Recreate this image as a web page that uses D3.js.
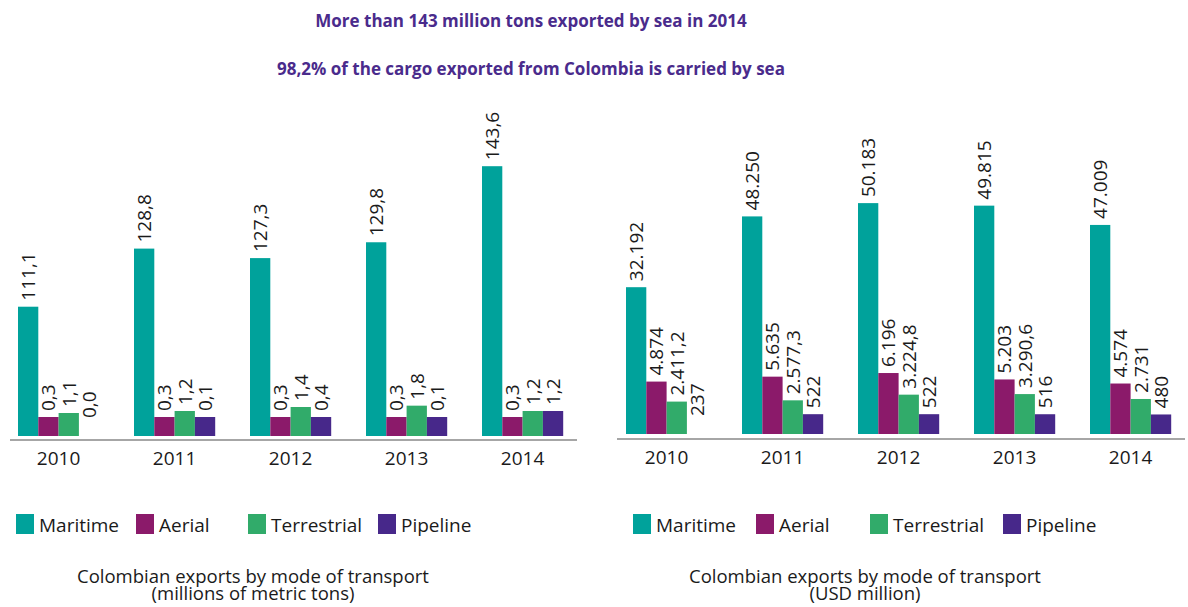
<!DOCTYPE html>
<html><head><meta charset="utf-8">
<script src="https://cdn.jsdelivr.net/npm/d3@7"></script>
<style>
html,body{margin:0;padding:0;background:#fff;}
svg text{font-family:"Open Sans","Noto Sans",sans-serif;}
</style></head>
<body>
<svg id="c" width="1188" height="607"></svg>
<script>
const years = ["2010","2011","2012","2013","2014"];
const modes = ["Maritime","Aerial","Terrestrial","Pipeline"];
const modeColors = ["#00a29b","#8b1a6a","#31ab6a","#47288a"];
const tonsMaritime = [111.1,128.8,127.3,129.8,143.6];
const tonsAerial = [0.3,0.3,0.3,0.3,0.3];
const tonsTerrestrial = [1.1,1.2,1.4,1.8,1.2];
const tonsPipeline = [0.0,0.1,0.4,0.1,1.2];
const usdMaritime = [32192,48250,50183,49815,47009];
const usdAerial = [4874,5635,6196,5203,4574];
const usdTerrestrial = [2411.2,2577.3,3224.8,3290.6,2731];
const usdPipeline = [237,522,522,516,480];
const titleLines = ["More than 143 million tons exported by sea in 2014","98,2% of the cargo exported from Colombia is carried by sea"];
const captionLeft = ["Colombian exports by mode of transport","(millions of metric tons)"];
const captionRight = ["Colombian exports by mode of transport","(USD million)"];

const loc = d3.formatLocale({decimal:",", thousands:".", grouping:[3], currency:["$",""]});
const fmtTons = loc.format(".1f");
const fmtUsd = v => Number.isInteger(v) ? loc.format(",.0f")(v) : loc.format(",.1f")(v);

const svg = d3.select("#c");

// titles
svg.selectAll("text.title").data(titleLines).join("text")
  .attr("class","title")
  .attr("x",531).attr("y",(d,i)=>27+i*48)
  .attr("text-anchor","middle")
  .attr("font-size",17).attr("font-weight","bold")
  .attr("fill","#4a2b8c").text(d=>d);

function drawChart(cfg){
  const g = svg.append("g");
  const x0 = d3.scaleBand().domain(years).range(cfg.range).paddingInner(0.3).paddingOuter(0.15);
  const x1 = d3.scaleBand().domain(modes).range([0,x0.bandwidth()]);
  const h = d3.scaleLinear().domain(cfg.hDomain).range(cfg.hRange);
  const rows = years.map((y,i)=>({year:y, vals:modes.map((m,j)=>({mode:m, j, v:cfg.series[j][i]}))}));

  // axis line
  g.append("line").attr("x1",cfg.axisX[0]).attr("x2",cfg.axisX[1])
    .attr("y1",cfg.axisY).attr("y2",cfg.axisY)
    .attr("stroke","#a6a6a6").attr("stroke-width",2);

  const grp = g.selectAll("g.grp").data(rows).join("g")
    .attr("class","grp").attr("transform",d=>`translate(${x0(d.year)},0)`);

  grp.selectAll("rect").data(d=>d.vals).join("rect")
    .attr("x",d=>x1(d.mode)).attr("width",x1.bandwidth())
    .attr("y",d=>cfg.base-h(d.v)).attr("height",d=>h(d.v))
    .attr("fill",d=>modeColors[d.j]);

  grp.selectAll("text.lbl").data(d=>d.vals).join("text")
    .attr("class","lbl")
    .attr("transform",d=>{
      const hh = h(d.v);
      const yb = hh>0 ? cfg.base-hh-6 : cfg.base-18;
      return `translate(${x1(d.mode)+x1.bandwidth()/2+7},${yb}) rotate(-90)`;
    })
    .attr("font-size",19).attr("fill","#1a1a1a")
    .text(d=>cfg.fmt(d.v));

  // x axis labels
  g.selectAll("text.yr").data(years).join("text")
    .attr("class","yr")
    .attr("x",d=>x0(d)+x0.bandwidth()/2).attr("y",cfg.axisY+25)
    .attr("text-anchor","middle").attr("font-size",19).attr("fill","#1a1a1a")
    .text(d=>d);

  // legend
  const lg = g.selectAll("g.lg").data(modes).join("g").attr("class","lg")
    .attr("transform",(d,i)=>`translate(${cfg.legendX[i]},514)`);
  lg.append("rect").attr("width",18).attr("height",20).attr("fill",(d,i)=>modeColors[i]);
  lg.append("text").attr("x",23).attr("y",18).attr("font-size",19).attr("fill","#1a1a1a").text(d=>d);

  // caption
  g.selectAll("text.cap").data(cfg.caption).join("text")
    .attr("class","cap")
    .attr("x",cfg.capX).attr("y",(d,i)=>583+i*17)
    .attr("text-anchor","middle").attr("font-size",18.5).attr("fill","#1a1a1a")
    .text(d=>d);
}

drawChart({
  range:[0.6,580.6], base:436, axisY:440, axisX:[10,577],
  series:[tonsMaritime,tonsAerial,tonsTerrestrial,tonsPipeline],
  hDomain:[0,0.01,0.5,1.1,1.4,2,111,127,130,144],
  hRange:[0,19,19,23,29,31,129,176,195,272],
  fmt:fmtTons, legendX:[16,136,248,378], caption:captionLeft, capX:253
});
drawChart({
  range:[608.6,1188.6], base:434, axisY:439, axisX:[617,1185],
  series:[usdMaritime,usdAerial,usdTerrestrial,usdPipeline],
  hDomain:[0,300,400,2500,3300,4500,6200,32000,47000,50200],
  hRange:[0,0,19,33,40,50,61,146,209,231],
  fmt:fmtUsd, legendX:[633,756,870,1003], caption:captionRight, capX:865
});
</script>
</body></html>
